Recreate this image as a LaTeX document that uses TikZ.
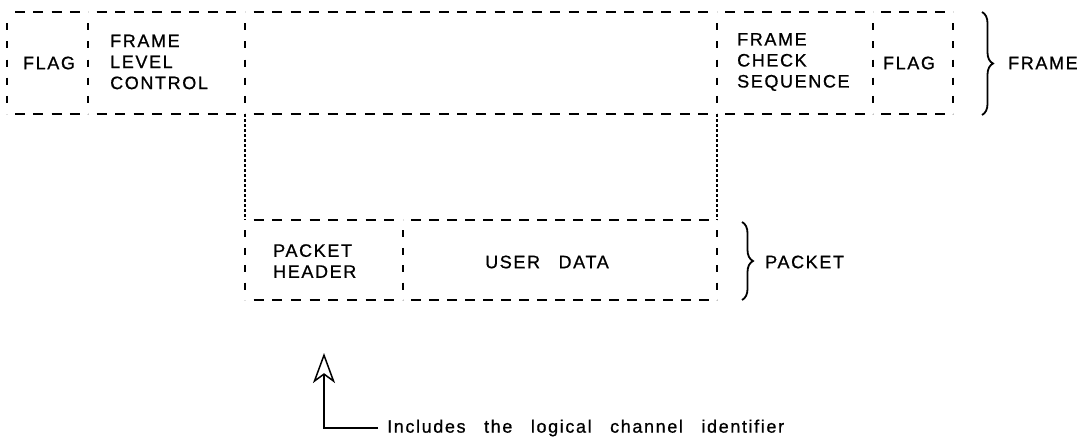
\documentclass[tikz,border=0pt]{standalone}
\usepackage{fontspec}
\setmainfont{Liberation Sans}[LetterSpace=9,WordSpace=2.8,FakeBold=0.8]
\usetikzlibrary{decorations.pathreplacing,arrows.meta}
\begin{document}
\begin{tikzpicture}[x=1pt,y=-1pt,
  cell/.style={draw=none,inner sep=0pt,align=left,font=\fontsize{18}{21}\selectfont},
  hdash/.style={line width=1.3pt,dash pattern=on 10pt off 8pt,dash expand off},
  vdash/.style={line width=1.3pt,dash pattern=on 7pt off 10pt,dash expand off},
  dotline/.style={line width=2pt,dash pattern=on 2.5pt off 2.5pt},
  brc/.style={decorate,decoration={brace,amplitude=11pt,aspect=0.5},line width=1.8pt},
  lbl/.style={font=\fontsize{18}{21}\selectfont,inner sep=0pt,anchor=west},
  ptr/.style={line width=1.8pt,-{Stealth[open,length=30pt,width=22pt,inset=8pt,line width=1.5pt]}}]
\useasboundingbox (0,0) rectangle (1090,440);
% frame corners
\coordinate (f1) at (7,12);   \coordinate (f1b) at (7,114);
\coordinate (f2) at (88,12);  \coordinate (f2b) at (88,114);
\coordinate (f3) at (245,12); \coordinate (f3b) at (245,114);
\coordinate (f4) at (717,12); \coordinate (f4b) at (717,114);
\coordinate (f5) at (873,12); \coordinate (f5b) at (873,114);
\coordinate (f6) at (953,12); \coordinate (f6b) at (953,114);
% packet corners
\coordinate (p1) at (245,220); \coordinate (p1b) at (245,300);
\coordinate (p2) at (403,220); \coordinate (p2b) at (403,300);
\coordinate (p3) at (717,220); \coordinate (p3b) at (717,300);
% frame lines
\draw[hdash] (f1) -- (f2);  \draw[hdash] (f2) -- (f3);
\draw[hdash] (f3) -- (f4);  \draw[hdash] (f4) -- (f5);
\draw[hdash] (f5) -- (f6);
\draw[hdash] (f1b) -- (f2b);  \draw[hdash] (f2b) -- (f3b);
\draw[hdash] (f3b) -- (f4b);  \draw[hdash] (f4b) -- (f5b);
\draw[hdash] (f5b) -- (f6b);
\foreach \c in {f1,f2,f3,f4,f5,f6} \draw[vdash] (\c) -- (\c b);
% dotted links
\draw[dotline] (f3b) -- (p1);
\draw[dotline] (f4b) -- (p3);
% packet lines
\draw[hdash] (p1) -- (p2);  \draw[hdash] (p2) -- (p3);
\draw[hdash] (p1b) -- (p2b);  \draw[hdash] (p2b) -- (p3b);
\foreach \c in {p1,p2,p3} \draw[vdash] (\c) -- (\c b);
% texts
\node[cell] (flag1) at (49,63) {FLAG};
\node[cell,anchor=west] (flc) at (110,62) {FRAME\\LEVEL\\CONTROL};
\node[cell,anchor=west] (fcs) at (737,62) {FRAME\\CHECK\\SEQUENCE};
\node[cell] (flag2) at (909,63) {FLAG};
\node[cell,anchor=west] (ph) at (273,261) {PACKET\\HEADER};
\node[cell] (ud) at (547,262) {USER DATA};
% braces
\draw[brc] (982,12) -- (982,115);
\node[lbl] (framelbl) at (1008,63) {FRAME};
\draw[brc] (742,222) -- (742,300);
\node[lbl] (packetlbl) at (765,262) {PACKET};
% pointer
\node[lbl] (note) at (387,428) {Includes the logical channel identifier};
\coordinate (tip) at (324,353);
\coordinate (bend) at (324,428);
\coordinate (tail) at (378,428);
\draw[ptr] (tail) -- (bend) -- (tip);
\end{tikzpicture}
\end{document}
